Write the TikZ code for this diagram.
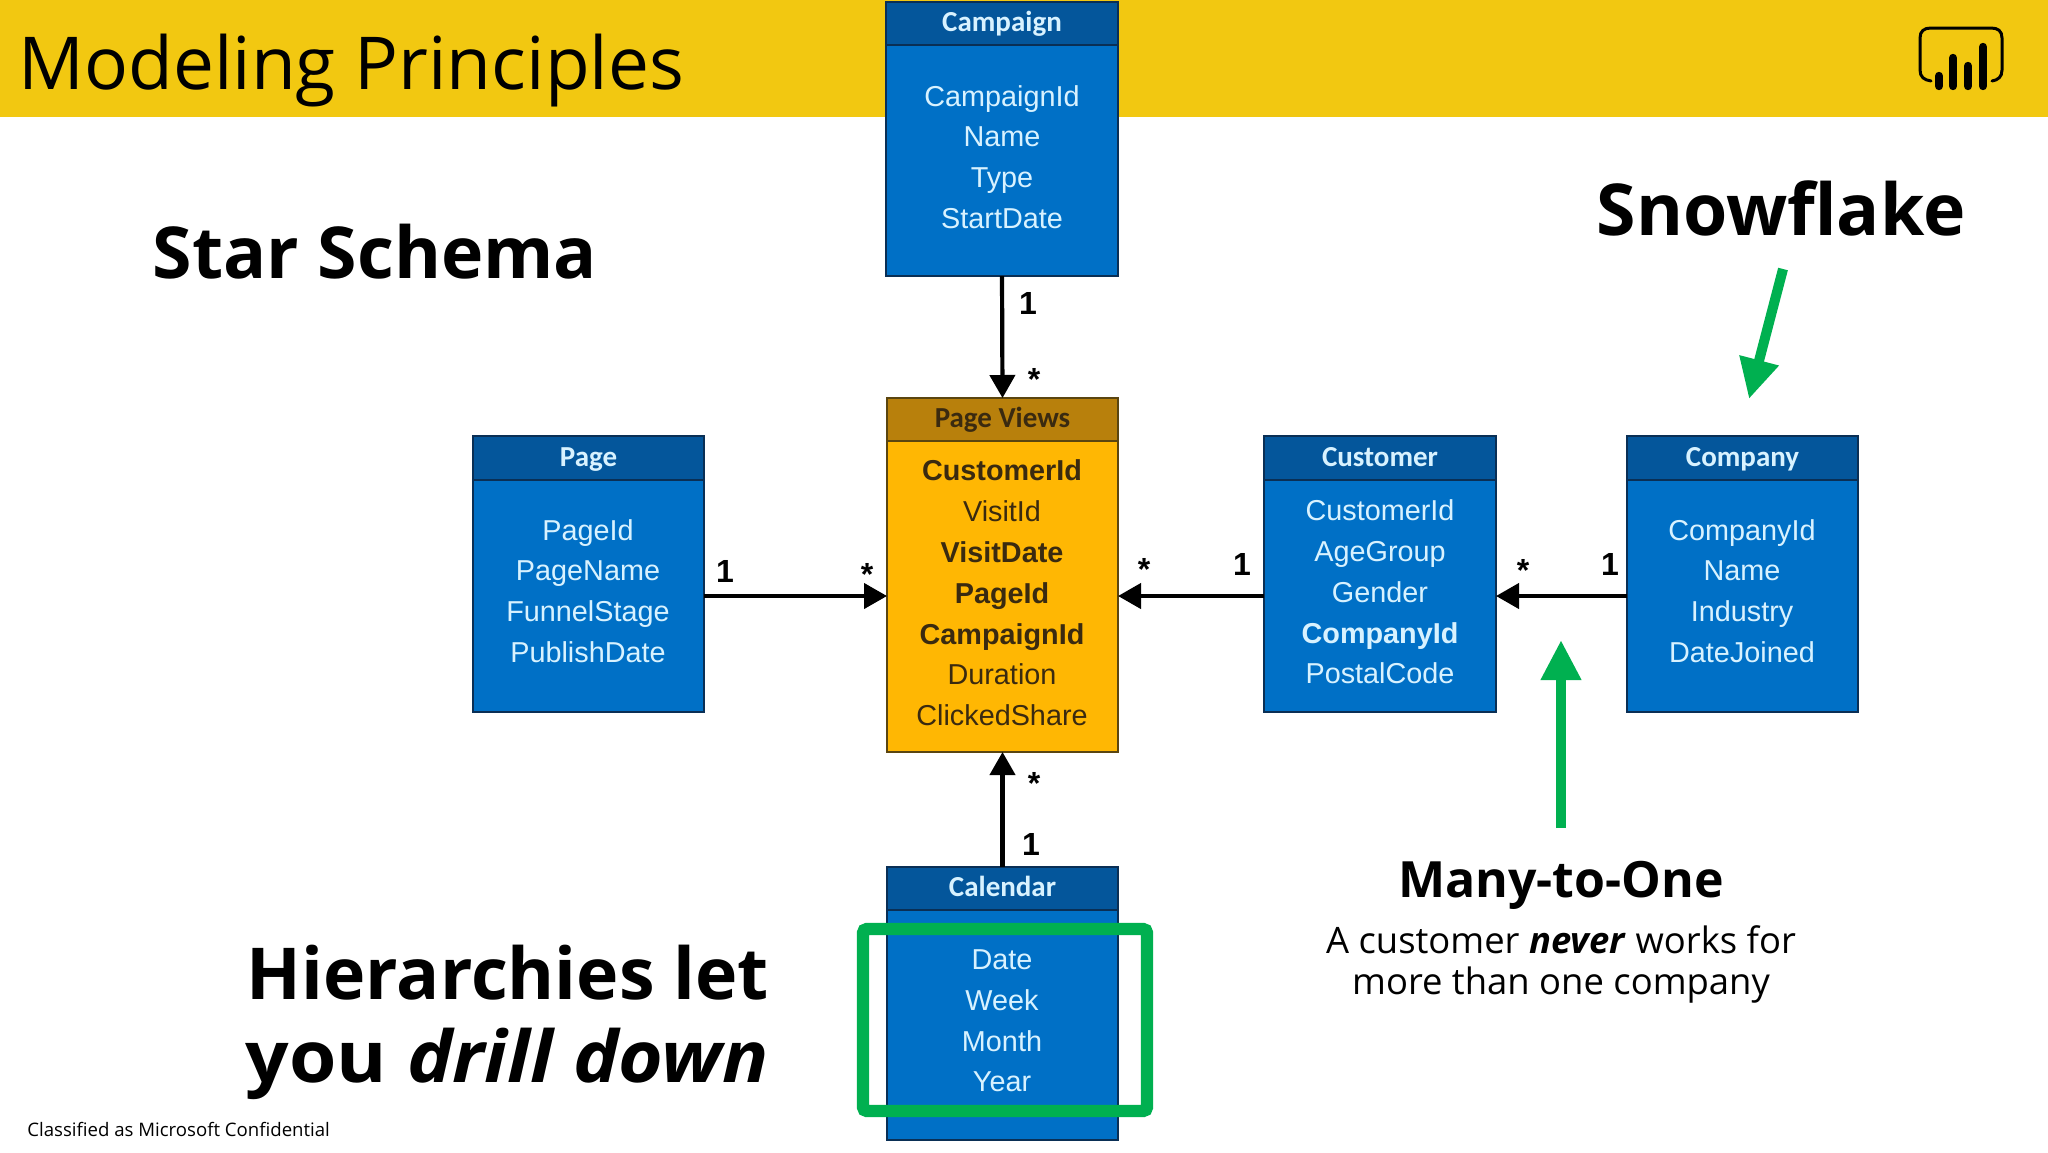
\documentclass[tikz,border=0pt]{standalone}
\usepackage{fontspec}
\usepackage{graphicx}
\setmainfont{Open Sans}
\newfontfamily\arialf{Liberation Sans}
\newfontfamily\hdrf{Carlito}
\usetikzlibrary{arrows.meta,calc}
\definecolor{band}{HTML}{F2C811}
\definecolor{tblue}{HTML}{0070C6}
\definecolor{hblue}{HTML}{04569B}
\definecolor{edgeb}{HTML}{0A2F55}
\definecolor{tlight}{HTML}{D8F2FF}
\definecolor{pvbody}{HTML}{FFB703}
\definecolor{pvhead}{HTML}{B8800C}
\definecolor{pvedge}{HTML}{5A4510}
\definecolor{pvtext}{HTML}{3A2A10}
\definecolor{grn}{HTML}{00B050}
\tikzset{
  px/.style={x=0.5pt,y=-0.5pt},
  tbody/.style={draw=edgeb,fill=tblue,line width=0.7pt,inner sep=0,outer sep=0},
  thead/.style={draw=edgeb,fill=hblue,line width=0.7pt,inner sep=0,outer sep=0,text=tlight,text height=11pt,text depth=2.6pt,font=\hdrf\bfseries\fontsize{14.5}{16}\selectfont},
  tlines/.style={text=tlight,align=center,inner sep=0,font=\arialf\fontsize{14.4}{20.4}\selectfont},
  pbody/.style={tbody,draw=pvedge,fill=pvbody},
  phead/.style={thead,draw=pvedge,fill=pvhead,text=pvtext},
  plines/.style={tlines,text=pvtext},
  rel/.style={line width=2.1pt,black,-{Triangle[length=11.5pt,width=12.5pt]}},
  card/.style={font=\arialf\bfseries\fontsize{16}{18}\selectfont,text=black,inner sep=0},
  bigt/.style={font=\bfseries\fontsize{35.8}{40}\selectfont,text=black,inner sep=0},
  greenarrow/.style={line width=5pt,grn,-{Triangle[length=20pt,width=19pt]}},
  bar/.style={line width=4.2pt,line cap=round,black},
}
% name, x1,y1,x2,y2, header bottom, title
\newcommand{\boxmk}[9]{%
  \node[#8,minimum width=#4*0.5pt-#2*0.5pt,minimum height=#5*0.5pt-#3*0.5pt,anchor=north west] (#1) at (#2,#3) {};
  \node[#9,minimum width=#4*0.5pt-#2*0.5pt,minimum height=#6*0.5pt-#3*0.5pt,anchor=north west] (#1h) at (#2,#3) {#7};
}
\begin{document}
\begin{tikzpicture}[px]
\useasboundingbox (0,0) rectangle (2048,1152);
\fill[white] (0,0) rectangle (2048,1152);
\fill[band] (0,0) rectangle (2048,117);
\node[anchor=west,inner sep=0,font=\fontsize{36.5}{40}\selectfont,text=black] (title) at (18,71) {Modeling Principles};
% icon
\draw[line width=1.5pt,black,line cap=round] (1931,81) .. controls (1924,80) and (1920,77) .. (1920,70) -- (1920,38) .. controls (1920,31) and (1924,28) .. (1931,28) -- (1991,28) .. controls (1998,28) and (2002,31) .. (2002,38) -- (2002,70) .. controls (2002,77) and (1998,80) .. (1992,81);
\draw[bar] (1939,76) -- (1939,86);
\draw[bar] (1953,58) -- (1953,86);
\draw[bar] (1968,66) -- (1968,86);
\draw[bar] (1983,47) -- (1983,86);
% tables
\boxmk{campaign}{886}{2}{1118}{276}{45}{Campaign}{tbody}{thead}
\node[tlines] (campaignt) at (1002,157) {CampaignId\\Name\\Type\\StartDate};
\boxmk{pv}{887}{398}{1118}{752}{441}{Page Views}{pbody}{phead}
\node[plines] (pvt) at (1002,593) {\textbf{CustomerId}\\VisitId\\\textbf{VisitDate}\\\textbf{PageId}\\\textbf{CampaignId}\\Duration\\ClickedShare};
\boxmk{page}{473}{436}{704}{712}{480}{Page}{tbody}{thead}
\node[tlines] (paget) at (588,591) {PageId\\PageName\\FunnelStage\\PublishDate};
\boxmk{customer}{1264}{436}{1496}{712}{480}{Customer}{tbody}{thead}
\node[tlines] (customert) at (1380,592) {CustomerId\\AgeGroup\\Gender\\\textbf{CompanyId}\\PostalCode};
\boxmk{company}{1627}{436}{1858}{712}{480}{Company}{tbody}{thead}
\node[tlines] (companyt) at (1742,591) {CompanyId\\Name\\Industry\\DateJoined};
\boxmk{calendar}{887}{867}{1118}{1140}{910}{Calendar}{tbody}{thead}
\node[tlines] (calendart) at (1002,1021) {Date\\Week\\Month\\Year};
% connectors
\coordinate (row) at (0,596);
\draw[rel] (campaign.south) -- (pv.north);
\draw[rel] (calendar.north) -- (pv.south);
\draw[rel] (page.east |- row) -- (pv.west |- row);
\draw[rel] (customer.west |- row) -- (pv.east |- row);
\draw[rel] (company.west |- row) -- (customer.east |- row);
% cardinalities
\node[card] (c1) at (1028,303) {1};
\node[card] (c2) at (1034,379) {*};
\node[card] (c3) at (725,571) {1};
\node[card] (c4) at (867,574) {*};
\node[card] (c5) at (1144,569) {*};
\node[card] (c6) at (1242,564) {1};
\node[card] (c7) at (1523,570) {*};
\node[card] (c8) at (1610,564) {1};
\node[card] (c9) at (1034,783) {*};
\node[card] (c10) at (1031,844) {1};
% captions
\node[bigt] (star) at (375,252) {Star Schema};
\node[bigt] (snow) at (1781,208) {Snowflake};
\node[bigt,anchor=east] (h1) at (769,973) {Hierarchies let};
\node[bigt,anchor=east] (h2) at (769,1064) {\scalebox{1.07}[1]{you \textit{drill down}}};
\node[inner sep=0,font=\bfseries\fontsize{25}{28}\selectfont,text=black] (m2o) at (1561,885) {Many-to-One};
\node[inner sep=0,align=center,font=\fontsize{18.2}{20.8}\selectfont,text=black,anchor=north] (m2od) at (1561,925) {A customer \textbf{\textit{never}} works for\\more than one company};
\node[inner sep=0,anchor=west,font=\fontsize{9.3}{12}\selectfont,text=black] (conf) at (27,1129) {Classified as Microsoft Confidential};
% green marks
\node[draw=grn,line width=6.2pt,rounded corners=2pt,minimum width=142pt,minimum height=91pt,inner sep=0] (hier) at (1005,1020) {};
\coordinate (s1) at (1783,269);
\coordinate (s2) at (1749,399);
\draw[greenarrow] (s1) -- (s2);
\coordinate (m1) at (1561,828);
\coordinate (m2) at (1561,640);
\draw[greenarrow] (m1) -- (m2);
\end{tikzpicture}
\end{document}
